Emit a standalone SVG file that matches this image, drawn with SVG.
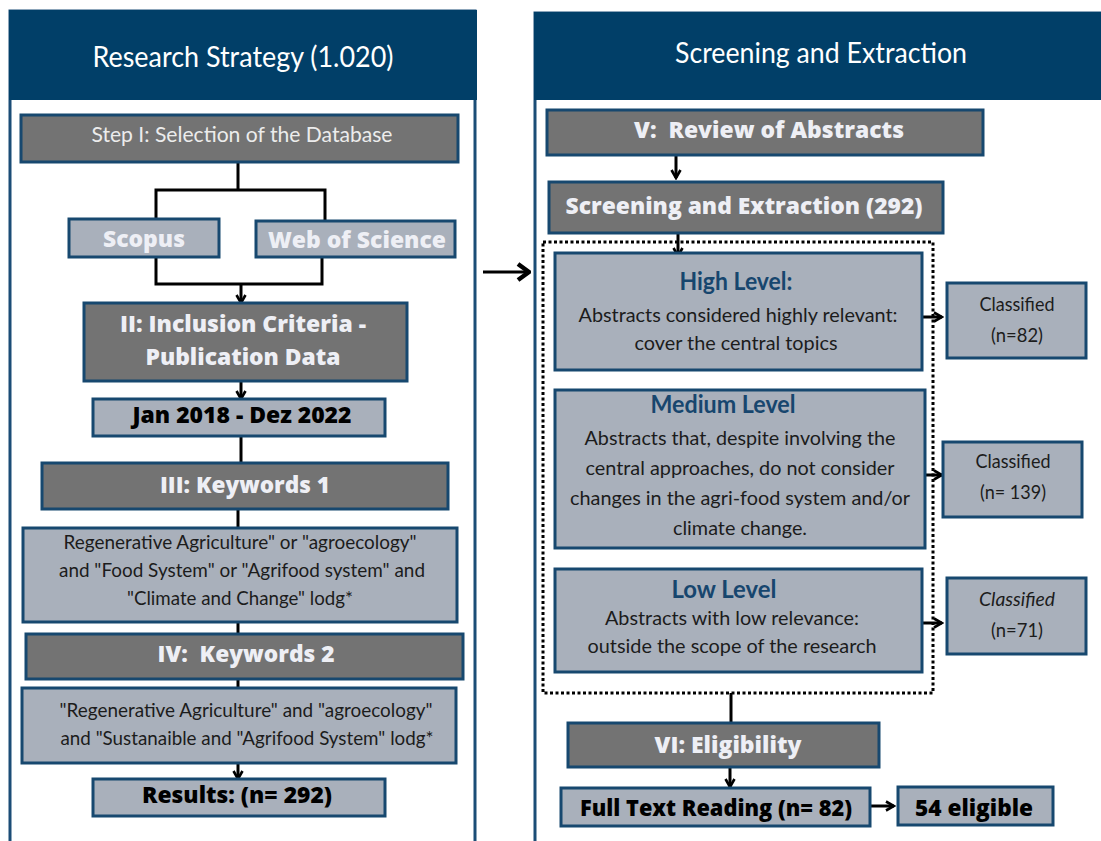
<svg xmlns="http://www.w3.org/2000/svg" width="1101" height="841" viewBox="0 0 1101 841">
<style>
.hdr{fill:#013f68}
.pan{fill:#fff;stroke:#1b4d76;stroke-width:3}
.g{fill:#737373;stroke:#17486f;stroke-width:3}
.l{fill:#a9b0bb;stroke:#17486f;stroke-width:3}
.c{fill:none;stroke:#000;stroke-width:3}
.title{font-family:Lato,"Liberation Sans",sans-serif;font-size:28px;fill:#fff;text-anchor:middle}
.sw{font-family:"Open Sans","Liberation Sans",sans-serif;font-weight:800;font-size:23px;fill:#eeeff5;text-anchor:middle;white-space:pre}
.sb{font-family:"Open Sans","Liberation Sans",sans-serif;font-weight:800;font-size:23px;fill:#000;text-anchor:middle}
.r{font-family:Lato,"Liberation Sans",sans-serif;font-size:20px;fill:#1c1c1c;text-anchor:middle}
.rw{font-family:Lato,"Liberation Sans",sans-serif;font-size:21px;fill:#ececec;text-anchor:middle}
.h{font-family:Lato,"Liberation Sans",sans-serif;font-weight:bold;font-size:24px;fill:#17466e;text-anchor:middle}
.s{font-family:Lato,"Liberation Sans",sans-serif;font-size:19px;fill:#1c1c1c;text-anchor:middle}
</style>
<defs>
<marker id="ah" viewBox="0 0 12 12" refX="10" refY="6" markerWidth="12" markerHeight="12" markerUnits="userSpaceOnUse" orient="auto">
<path d="M2,1.5 L10,6 L2,10.5" fill="none" stroke="#000" stroke-width="2.6"/>
</marker>
<marker id="big" viewBox="0 0 16 20" refX="14" refY="10" markerWidth="16" markerHeight="20" markerUnits="userSpaceOnUse" orient="auto">
<path d="M3,2 L14,10 L3,18" fill="none" stroke="#000" stroke-width="4.5"/>
</marker>
</defs>

<g id="panel-left">
<rect class="pan" x="10" y="11" width="465" height="845"/>
<rect class="hdr" x="9" y="10" width="468" height="90"/>
<text class="title" x="243" y="67" textLength="301" lengthAdjust="spacingAndGlyphs">Research Strategy (1.020)</text>
</g>
<g id="panel-right">
<rect class="pan" x="535" y="13" width="580" height="845"/>
<rect class="hdr" x="534" y="12" width="570" height="88"/>
<text class="title" x="821" y="63" font-size="27" textLength="292" lengthAdjust="spacingAndGlyphs">Screening and Extraction</text>
</g>

<g id="connectors">
<path class="c" d="M238,162 V190 M156,219 V190 H325 V221"/>
<path class="c" d="M156,257 V284 H322 V257"/>
<path class="c" d="M241,284 V303" marker-end="url(#ah)"/>
<path class="c" d="M241,381 V399" marker-end="url(#ah)"/>
<path class="c" d="M241,436 V463"/>
<path class="c" d="M238,509 V528"/>
<path class="c" d="M238,622 V634"/>
<path class="c" d="M238,679 V688"/>
<path class="c" d="M238,763 V779" marker-end="url(#ah)"/>
<path class="c" d="M483,272 H529" stroke-width="5" marker-end="url(#big)"/>
<path class="c" d="M676,155 V178" marker-end="url(#ah)"/>
<path class="c" d="M678,233 V256" marker-end="url(#ah)"/>
<rect x="543" y="242" width="390" height="451" fill="none" stroke="#000" stroke-width="3" stroke-dasharray="3 2.5"/>
<path class="c" d="M922,317 H942" marker-end="url(#ah)"/>
<path class="c" d="M925,475 H942" marker-end="url(#ah)"/>
<path class="c" d="M922,623 H942" marker-end="url(#ah)"/>
<path class="c" d="M731,693 V723"/>
<path class="c" d="M730,767 V787" marker-end="url(#ah)"/>
<path class="c" d="M870,806 H894" marker-end="url(#ah)"/>
</g>

<g id="step1"><rect class="g" x="21" y="115" width="437" height="47"/>
<text class="rw" x="242" y="142" textLength="301" lengthAdjust="spacingAndGlyphs">Step I: Selection of the Database</text></g>
<g id="scopus"><rect class="l" x="69" y="219" width="150" height="38"/>
<text class="sw" x="144" y="247" textLength="82" lengthAdjust="spacingAndGlyphs">Scopus</text></g>
<g id="wos"><rect class="l" x="256" y="221" width="199" height="36"/>
<text class="sw" x="357" y="248" textLength="178" lengthAdjust="spacingAndGlyphs">Web of Science</text></g>
<g id="step2"><rect class="g" x="84" y="303" width="323" height="78"/>
<text class="sw" x="243" y="332" textLength="246" lengthAdjust="spacingAndGlyphs">II: Inclusion Criteria -</text>
<text class="sw" x="243" y="365" textLength="195" lengthAdjust="spacingAndGlyphs">Publication Data</text></g>
<g id="dates"><rect class="l" x="93" y="399" width="292" height="37"/>
<text class="sb" x="242" y="423" textLength="219" lengthAdjust="spacingAndGlyphs">Jan 2018 - Dez 2022</text></g>
<g id="step3"><rect class="g" x="42" y="463" width="406" height="46"/>
<text class="sw" x="245" y="493" textLength="170" lengthAdjust="spacingAndGlyphs">III: Keywords 1</text></g>
<g id="kw1"><rect class="l" x="23" y="528" width="434" height="94"/>
<text class="r" x="240" y="549" textLength="353" lengthAdjust="spacingAndGlyphs">Regenerative Agriculture" or "agroecology"</text>
<text class="r" x="242" y="577" textLength="366" lengthAdjust="spacingAndGlyphs">and "Food System" or "Agrifood system" and</text>
<text class="r" x="240" y="605" textLength="226" lengthAdjust="spacingAndGlyphs">"Climate and Change" lodg*</text></g>
<g id="step4"><rect class="g" x="26" y="634" width="437" height="45"/>
<text class="sw" x="246" y="662" textLength="177" lengthAdjust="spacingAndGlyphs">IV:  Keywords 2</text></g>
<g id="kw2"><rect class="l" x="22" y="688" width="434" height="75"/>
<text class="r" x="246" y="717" textLength="373" lengthAdjust="spacingAndGlyphs">"Regenerative Agriculture" and "agroecology"</text>
<text class="r" x="247" y="745" textLength="373" lengthAdjust="spacingAndGlyphs">and "Sustanaible and "Agrifood System" lodg*</text></g>
<g id="results"><rect class="l" x="93" y="779" width="292" height="37"/>
<text class="sb" x="237" y="803" textLength="190" lengthAdjust="spacingAndGlyphs">Results: (n= 292)</text></g>

<g id="step5"><rect class="g" x="547" y="110" width="436" height="45"/>
<text class="sw" x="769" y="138" textLength="270" lengthAdjust="spacingAndGlyphs">V:  Review of Abstracts</text></g>
<g id="screening"><rect class="g" x="549" y="182" width="394" height="51"/>
<text class="sw" x="744" y="214" textLength="357" lengthAdjust="spacingAndGlyphs">Screening and Extraction (292)</text></g>
<g id="high"><rect class="l" x="555" y="253" width="367" height="117"/>
<text class="h" x="736" y="290" textLength="113" lengthAdjust="spacingAndGlyphs">High Level:</text>
<text class="r" x="738" y="322" textLength="319" lengthAdjust="spacingAndGlyphs">Abstracts considered highly relevant:</text>
<text class="r" x="736" y="350" textLength="203" lengthAdjust="spacingAndGlyphs">cover the central topics</text></g>
<g id="medium"><rect class="l" x="555" y="390" width="370" height="158"/>
<text class="h" x="723" y="413" textLength="145" lengthAdjust="spacingAndGlyphs">Medium Level</text>
<text class="r" x="740" y="445" textLength="311" lengthAdjust="spacingAndGlyphs">Abstracts that, despite involving the</text>
<text class="r" x="740" y="475" textLength="309" lengthAdjust="spacingAndGlyphs">central approaches, do not consider</text>
<text class="r" x="740" y="505" textLength="340" lengthAdjust="spacingAndGlyphs">changes in the agri-food system and/or</text>
<text class="r" x="740" y="535" textLength="134" lengthAdjust="spacingAndGlyphs">climate change.</text></g>
<g id="low"><rect class="l" x="555" y="569" width="367" height="103"/>
<text class="h" x="724" y="598" textLength="105" lengthAdjust="spacingAndGlyphs">Low Level</text>
<text class="r" x="732" y="625" textLength="254" lengthAdjust="spacingAndGlyphs">Abstracts with low relevance:</text>
<text class="r" x="732" y="653" textLength="289" lengthAdjust="spacingAndGlyphs">outside the scope of the research</text></g>
<g id="class-high"><rect class="l" x="947" y="283" width="139" height="75"/>
<text class="s" x="1017" y="311" textLength="75" lengthAdjust="spacingAndGlyphs">Classified</text>
<text class="s" x="1017" y="342" textLength="52" lengthAdjust="spacingAndGlyphs">(n=82)</text></g>
<g id="class-medium"><rect class="l" x="943" y="442" width="139" height="75"/>
<text class="s" x="1013" y="468" textLength="75" lengthAdjust="spacingAndGlyphs">Classified</text>
<text class="s" x="1013" y="499" textLength="66" lengthAdjust="spacingAndGlyphs">(n= 139)</text></g>
<g id="class-low"><rect class="l" x="947" y="578" width="139" height="76"/>
<text class="s" x="1017" y="606" font-style="italic" textLength="76" lengthAdjust="spacingAndGlyphs">Classified</text>
<text class="s" x="1017" y="637" textLength="52" lengthAdjust="spacingAndGlyphs">(n=71)</text></g>
<g id="step6"><rect class="g" x="568" y="723" width="311" height="44"/>
<text class="sw" x="728" y="753" textLength="147" lengthAdjust="spacingAndGlyphs">VI: Eligibility</text></g>
<g id="fulltext"><rect class="l" x="561" y="788" width="309" height="38"/>
<text class="sb" x="716" y="816" textLength="272" lengthAdjust="spacingAndGlyphs">Full Text Reading (n= 82)</text></g>
<g id="eligible"><rect class="l" x="898" y="787" width="155" height="38"/>
<text class="sb" x="974" y="816" textLength="118" lengthAdjust="spacingAndGlyphs">54 eligible</text></g>
</svg>
